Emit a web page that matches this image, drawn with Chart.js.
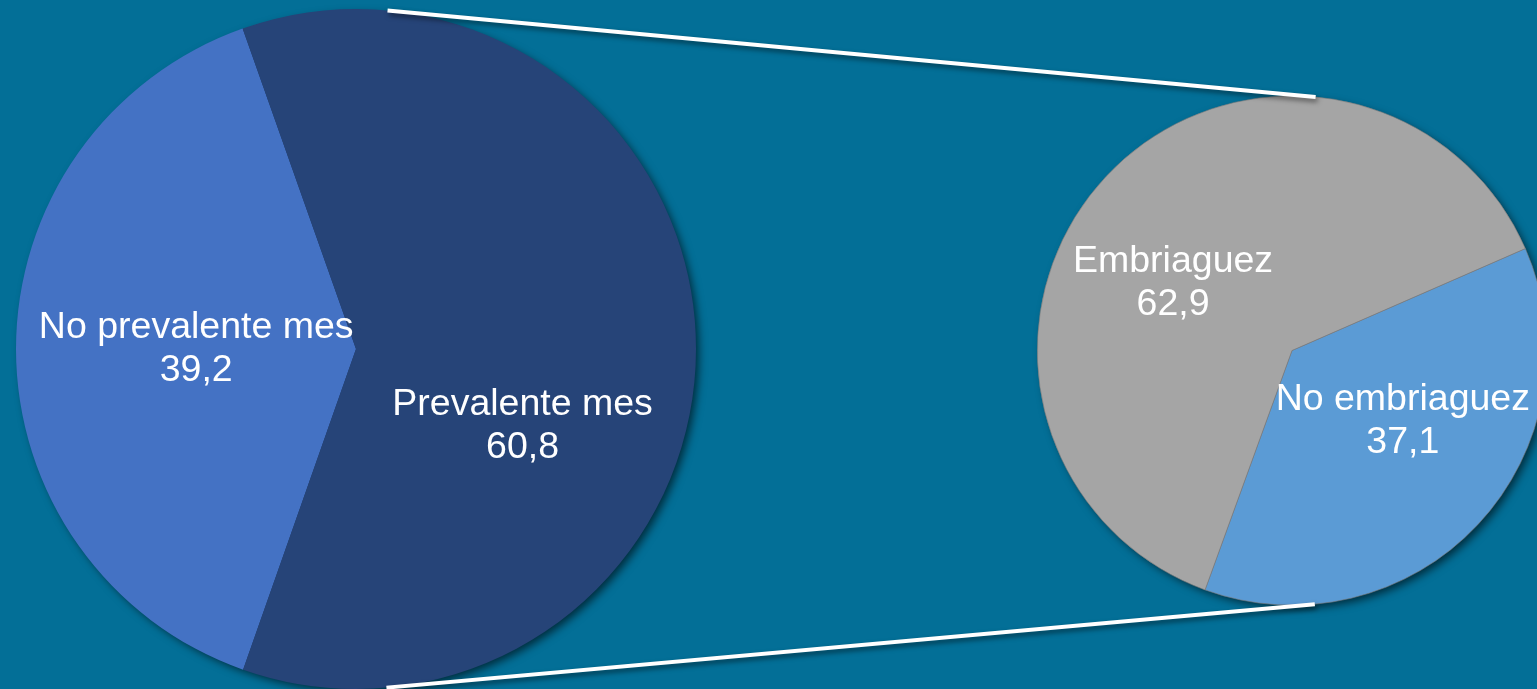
<!DOCTYPE html>
<html>
<head>
<meta charset="utf-8">
<script src="https://cdn.jsdelivr.net/npm/chart.js@4"></script>
<style>
  html, body { margin: 0; padding: 0; background: #036f97; overflow: hidden; }
  #wrap { position: relative; width: 1537px; height: 689px; overflow: hidden; }
  #wrap canvas { position: absolute; left: 0; top: 0; }
</style>
</head>
<body>
<div id="wrap">
  <canvas id="mainPie" width="1560" height="689"></canvas>
  <canvas id="subPie" width="1560" height="689"></canvas>
</div>
<script>
// data
const mainLabels = ["No prevalente mes", "Prevalente mes"];
const mainValues = [39.2, 60.8];
const subLabels = ["No embriaguez", "Embriaguez"];
const subValues = [37.1, 62.9];

const mainColors = ["#4472c4", "#264478"];
const subColors = ["#5b9bd5", "#a5a5a5"];

// where each label block sits, as a fraction of the radius from the centre
const mainLabelPos = [[-0.47, 0.0], [0.49, 0.226]];
const subLabelPos = [[0.435, 0.275], [-0.467, -0.265]];

const FONT = '37.5px "Liberation Sans", Arial, sans-serif';

function fmt(v) {
  return v.toFixed(1).replace(".", ",");
}

// shadow under the whole pie
const pieShadow = {
  id: "pieShadow",
  beforeDatasetsDraw(chart) {
    const arc = chart.getDatasetMeta(0).data[0];
    if (!arc) return;
    const ctx = chart.ctx;
    ctx.save();
    ctx.shadowColor = "rgba(0,0,0,0.6)";
    ctx.shadowBlur = 9;
    ctx.shadowOffsetX = 4;
    ctx.shadowOffsetY = 4;
    ctx.fillStyle = "#1f3a66";
    ctx.beginPath();
    ctx.arc(arc.x, arc.y, arc.outerRadius - 1, 0, Math.PI * 2);
    ctx.fill();
    ctx.restore();
  },
};

// two line labels: name + value
const sliceLabels = {
  id: "sliceLabels",
  afterDatasetsDraw(chart, args, opts) {
    const meta = chart.getDatasetMeta(0);
    const ctx = chart.ctx;
    const labels = chart.data.labels;
    const values = chart.data.datasets[0].data;
    ctx.save();
    ctx.font = FONT;
    ctx.fillStyle = "#ffffff";
    ctx.textAlign = "center";
    ctx.textBaseline = "middle";
    meta.data.forEach((arc, i) => {
      const p = opts.pos[i];
      const x = arc.x + p[0] * arc.outerRadius;
      const y = arc.y + p[1] * arc.outerRadius;
      ctx.fillText(labels[i], x, y - 21);
      ctx.fillText(fmt(values[i]), x, y + 22);
    });
    ctx.restore();
  },
};

// outer tangent lines joining the two pies
const connectors = {
  id: "connectors",
  afterDraw(chart) {
    const other = Chart.getChart("mainPie");
    if (!other) return;
    const a = other.getDatasetMeta(0).data[0];
    const b = chart.getDatasetMeta(0).data[0];
    const r1 = a.outerRadius, r2 = b.outerRadius;
    const dx = b.x - a.x, dy = b.y - a.y;
    const d = Math.hypot(dx, dy);
    const phi = Math.atan2(dy, dx);
    const alpha = Math.acos((r1 - r2) / d);
    const ctx = chart.ctx;
    ctx.save();
    ctx.strokeStyle = "#ffffff";
    ctx.lineWidth = 4;
    ctx.shadowColor = "rgba(0,0,0,0.5)";
    ctx.shadowBlur = 5;
    ctx.shadowOffsetX = 2;
    ctx.shadowOffsetY = 3;
    [phi - alpha, phi + alpha].forEach((t) => {
      const nx = Math.cos(t), ny = Math.sin(t);
      ctx.beginPath();
      ctx.moveTo(a.x + r1 * nx, a.y + r1 * ny);
      ctx.lineTo(b.x + r2 * nx, b.y + r2 * ny);
      ctx.stroke();
    });
    ctx.restore();
  },
};

new Chart(document.getElementById("mainPie"), {
  type: "pie",
  data: {
    labels: mainLabels,
    datasets: [
      {
        data: mainValues,
        backgroundColor: mainColors,
        borderWidth: 0,
      },
    ],
  },
  options: {
    responsive: false,
    animation: false,
    rotation: 199.4,
    layout: { padding: { left: 15, top: 9, right: 863, bottom: 0 } },
    plugins: {
      legend: { display: false },
      tooltip: { enabled: false },
      sliceLabels: { pos: mainLabelPos },
    },
  },
  plugins: [pieShadow, sliceLabels],
});

new Chart(document.getElementById("subPie"), {
  type: "pie",
  data: {
    labels: subLabels,
    datasets: [
      {
        data: subValues,
        backgroundColor: subColors,
        borderWidth: 0.6,
        borderColor: "#7a7a7a",
      },
    ],
  },
  options: {
    responsive: false,
    animation: false,
    rotation: 66.4,
    layout: { padding: { left: 1037, top: 95, right: 13, bottom: 83 } },
    plugins: {
      legend: { display: false },
      tooltip: { enabled: false },
      sliceLabels: { pos: subLabelPos },
    },
  },
  plugins: [pieShadow, sliceLabels, connectors],
});
</script>
</body>
</html>
